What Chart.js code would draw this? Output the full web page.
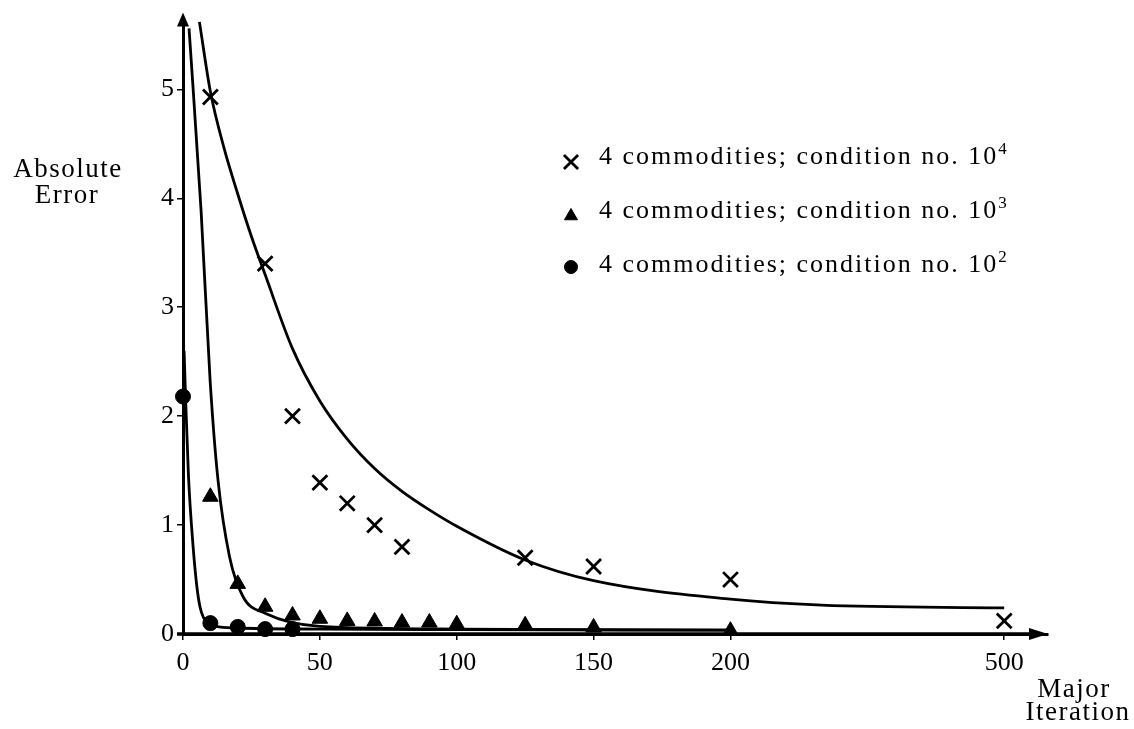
<!DOCTYPE html>
<html>
<head>
<meta charset="utf-8">
<script src="https://cdn.jsdelivr.net/npm/chart.js@4.4.1/dist/chart.umd.min.js"></script>
<style>
  html, body { margin: 0; padding: 0; background: #fff; }
  #wrap { width: 1134px; height: 729px; position: relative; }
</style>
</head>
<body>
<div id="wrap"><canvas id="chart"></canvas></div>
<script>
// x axis is broken after 200: 200 -> 500 takes the room of 100 iterations
const xTickLabels = [0, 50, 100, 150, 200, 500];
const yTickLabels = [0, 1, 2, 3, 4, 5];

const seriesLabels = ['4 commodities; condition no. 10', '4 commodities; condition no. 10', '4 commodities; condition no. 10'];
const seriesExponents = ['4', '3', '2'];

// condition no. 10^4 (crosses)
const cond4Iter = [10, 30, 40, 50, 60, 70, 80, 125, 150, 200, 500];
const cond4Error = [4.93, 3.4, 2.0, 1.39, 1.2, 1.0, 0.8, 0.7, 0.62, 0.5, 0.12];
// condition no. 10^3 (triangles)
const cond3Iter = [10, 20, 30, 40, 50, 60, 70, 80, 90, 100, 125, 150, 200];
const cond3Error = [1.26, 0.46, 0.25, 0.17, 0.14, 0.12, 0.115, 0.105, 0.105, 0.09, 0.08, 0.06, 0.03];
// condition no. 10^2 (circles)
const cond2Iter = [0, 10, 20, 30, 40];
const cond2Error = [2.18, 0.1, 0.065, 0.045, 0.045];

// fitted curves
const fit4Iter = [6, 10, 15, 20, 25, 30, 40, 50, 60, 70, 80, 90, 100, 125, 150, 200, 300, 500];
const fit4Error = [5.62, 4.98, 4.46, 4.04, 3.65, 3.3, 2.62, 2.14, 1.79, 1.52, 1.31, 1.14, 0.99, 0.68, 0.49, 0.32, 0.265, 0.24];
const fit3Iter = [2.2, 6.6, 9.9, 12.8, 17, 22, 30, 50, 100, 200];
const fit3Error = [5.56, 3.89, 2.33, 1.41, 0.71, 0.34, 0.19, 0.07, 0.045, 0.035];
const fit2Iter = [0.4, 0.9, 2, 3.7, 5, 6.2, 7.5, 9, 12, 20, 50, 100, 200];
const fit2Error = [2.6, 2.2, 1.45, 0.8, 0.45, 0.25, 0.15, 0.1, 0.07, 0.055, 0.045, 0.04, 0.035];

const BREAK = 200, SQUEEZE = 3;
const toAxis = v => v <= BREAK ? v : BREAK + (v - BREAK) / SQUEEZE;
const pts = (xs, ys) => xs.map((x, i) => ({ x: toAxis(x), y: ys[i] }));

const FONT = '"Liberation Serif", "Times New Roman", serif';

function markerSet(label, exp, xs, ys, style, radius, legendRadius) {
    return {
        label: label,
        exponent: exp,
        data: pts(xs, ys),
        pointStyle: style,
        pointRadius: radius,
        legendRadius: legendRadius,
        pointBorderWidth: style === 'crossRot' ? 2.8 : 1,
        pointBackgroundColor: '#000',
        pointBorderColor: '#000',
        showLine: false,
        clip: false
    };
}

function curveSet(xs, ys) {
    return {
        label: 'fit',
        data: pts(xs, ys),
        showLine: true,
        borderColor: '#000',
        borderWidth: 2.8,
        pointRadius: 0,
        cubicInterpolationMode: 'monotone',
        clip: false
    };
}

const decor = {
    id: 'decor',
    afterDraw(chart) {
        const { ctx, chartArea: a } = chart;
        ctx.save();
        ctx.fillStyle = '#000';
        ctx.strokeStyle = '#000';

        // axis arrows
        ctx.beginPath();
        ctx.moveTo(a.left, a.top - 6);
        ctx.lineTo(a.left - 6, a.top + 8);
        ctx.lineTo(a.left + 6, a.top + 8);
        ctx.closePath();
        ctx.fill();
        ctx.beginPath();
        ctx.moveTo(a.right, a.bottom);
        ctx.lineTo(a.right - 19, a.bottom - 6);
        ctx.lineTo(a.right - 19, a.bottom + 6);
        ctx.closePath();
        ctx.fill();
        ctx.lineWidth = 3.5;
        ctx.beginPath();
        ctx.moveTo(a.left - 6, a.bottom);
        ctx.lineTo(a.right - 10, a.bottom);
        ctx.stroke();

        // axis titles
        ctx.font = '27px ' + FONT;
        ctx.letterSpacing = '1.5px';
        ctx.textAlign = 'center';
        ctx.textBaseline = 'alphabetic';
        ctx.fillText('Absolute', 68, 177);
        ctx.fillText('Error', 67, 203);
        ctx.fillText('Major', 1074, 697);
        ctx.fillText('Iteration', 1078, 720);

        // legend
        ctx.textAlign = 'left';
        const markers = chart.data.datasets.filter(d => d.exponent);
        markers.forEach((d, i) => {
            const y = 164 + i * 54;
            const mx = 571, my = y - (d.pointStyle === 'circle' ? 5 : 2);
            ctx.lineWidth = d.pointBorderWidth;
            Chart.helpers.drawPoint(ctx, {
                pointStyle: d.pointStyle,
                radius: d.legendRadius,
                rotation: 0,
                borderWidth: d.pointBorderWidth
            }, mx, my);
            ctx.font = '26px ' + FONT;
            ctx.letterSpacing = '2px';
            ctx.fillText(d.label, 599, y);
            const w = ctx.measureText(d.label).width;
            ctx.font = '17px ' + FONT;
            ctx.letterSpacing = '0px';
            ctx.fillText(d.exponent, 599 + w, y - 10);
        });
        ctx.restore();
    }
};

new Chart(document.getElementById('chart'), {
    type: 'scatter',
    data: {
        datasets: [
            markerSet(seriesLabels[0], seriesExponents[0], cond4Iter, cond4Error, 'crossRot', 10.5, 10),
            markerSet(seriesLabels[1], seriesExponents[1], cond3Iter, cond3Error, 'triangle', 9, 7.5),
            markerSet(seriesLabels[2], seriesExponents[2], cond2Iter, cond2Error, 'circle', 7.5, 6.5),
            curveSet(fit4Iter, fit4Error),
            curveSet(fit3Iter, fit3Error),
            curveSet(fit2Iter, fit2Error)
        ]
    },
    options: {
        responsive: true,
        maintainAspectRatio: false,
        animation: false,
        layout: { padding: { top: 18, right: 86, left: 0, bottom: 0 } },
        plugins: {
            legend: { display: false },
            tooltip: { enabled: false }
        },
        scales: {
            x: {
                type: 'linear',
                min: 0,
                max: 316,
                afterBuildTicks: s => { s.ticks = xTickLabels.map(v => ({ value: toAxis(v) })); },
                afterFit: s => { s.height = 95; },
                ticks: {
                    autoSkip: false,
                    maxRotation: 0,
                    padding: 8,
                    color: '#000',
                    font: { family: FONT, size: 26 },
                    callback: (v, i) => String(xTickLabels[i])
                },
                grid: { drawOnChartArea: false, drawTicks: true, tickLength: 6, color: '#000', lineWidth: 1.5 },
                border: { display: true, color: '#000', width: 3 }
            },
            y: {
                min: 0,
                max: 5.65,
                afterBuildTicks: s => { s.ticks = yTickLabels.map(v => ({ value: v })); },
                afterFit: s => { s.width = 183; },
                ticks: {
                    padding: 3,
                    color: '#000',
                    font: { family: FONT, size: 26 },
                    callback: (v, i) => String(yTickLabels[i])
                },
                grid: { drawOnChartArea: false, drawTicks: true, tickLength: 6, color: '#000', lineWidth: 1.5 },
                border: { display: true, color: '#000', width: 3 }
            }
        }
    },
    plugins: [decor]
});
</script>
</body>
</html>
